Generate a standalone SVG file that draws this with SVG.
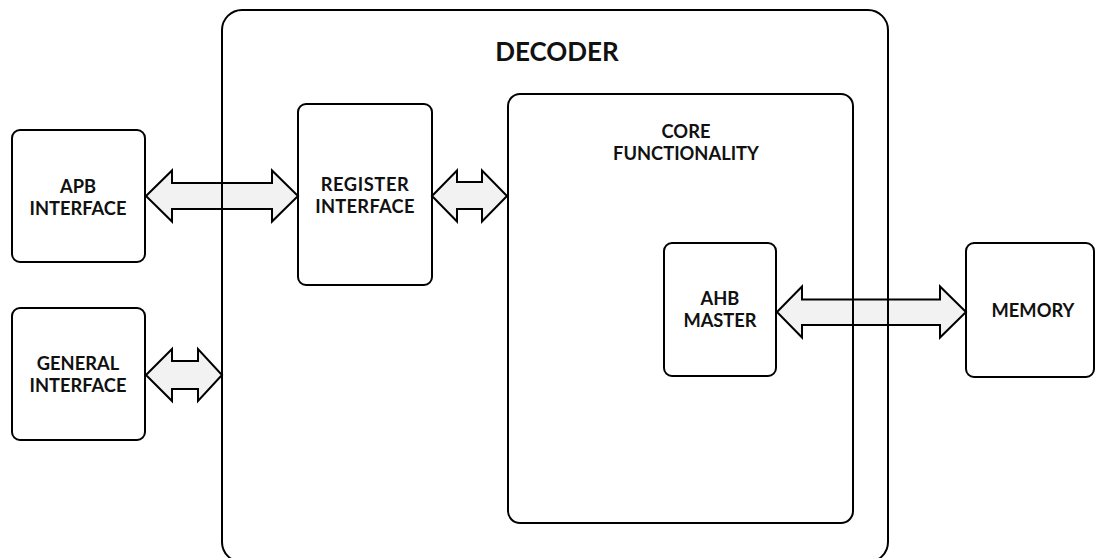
<svg xmlns="http://www.w3.org/2000/svg" width="1099" height="558" viewBox="0 0 1099 558">
  <style>
    .box { fill: none; stroke: #000; stroke-width: 2; }
    .bus { fill: #f2f2f2; stroke: #000; stroke-width: 2; stroke-linejoin: miter; }
    .lbl { font-family: Lato, "Open Sans", "Liberation Sans", sans-serif; font-weight: bold; font-size: 18.3px; fill: #111; text-anchor: middle; }
    .title { font-size: 26px; }
  </style>
  <rect x="0" y="0" width="1099" height="558" fill="#fff"/>

  <!-- bidirectional bus arrows -->
  <g id="connectors">
    <polygon class="bus" points="146,196 172,170.5 172,183 272,183 272,170.5 298,196 272,221.5 272,209 172,209 172,221.5"/>
    <polygon class="bus" points="432,196 457,170.5 457,182 482,182 482,170.5 507,196 482,221.5 482,209 457,209 457,221.5"/>
    <polygon class="bus" points="146,375 172,349 172,361 198,361 198,349 222,375 198,401 198,389 172,389 172,401"/>
    <polygon class="bus" points="777,312 802,286.5 802,299.5 940,299.5 940,286.5 966,312 940,337.5 940,325 802,325 802,337.5"/>
  </g>

  <g id="decoder">
    <rect class="box" x="222" y="10" width="666" height="552" rx="20"/>
    <text class="lbl title" x="557" y="61">DECODER</text>
  </g>

  <g id="core">
    <rect class="box" x="508" y="94" width="345" height="429" rx="12"/>
    <text class="lbl" x="686" y="138">CORE</text>
    <text class="lbl" x="686" y="160">FUNCTIONALITY</text>
  </g>

  <g id="apb">
    <rect class="box" x="12" y="130" width="133" height="132" rx="8"/>
    <text class="lbl" x="78" y="193">APB</text>
    <text class="lbl" x="78" y="215">INTERFACE</text>
  </g>

  <g id="general">
    <rect class="box" x="12" y="308" width="133" height="132" rx="8"/>
    <text class="lbl" x="78" y="369.5">GENERAL</text>
    <text class="lbl" x="78" y="391.5">INTERFACE</text>
  </g>

  <g id="register">
    <rect class="box" x="298" y="104" width="134" height="181" rx="8"/>
    <text class="lbl" x="365" y="191" letter-spacing="0.6">REGISTER</text>
    <text class="lbl" x="365" y="213" letter-spacing="0.3">INTERFACE</text>
  </g>

  <g id="ahb">
    <rect class="box" x="664" y="243" width="112" height="133" rx="8"/>
    <text class="lbl" x="720" y="305">AHB</text>
    <text class="lbl" x="720" y="327">MASTER</text>
  </g>

  <g id="memory">
    <rect class="box" x="966" y="243" width="128" height="134" rx="8"/>
    <text class="lbl" x="1033" y="317">MEMORY</text>
  </g>
</svg>
